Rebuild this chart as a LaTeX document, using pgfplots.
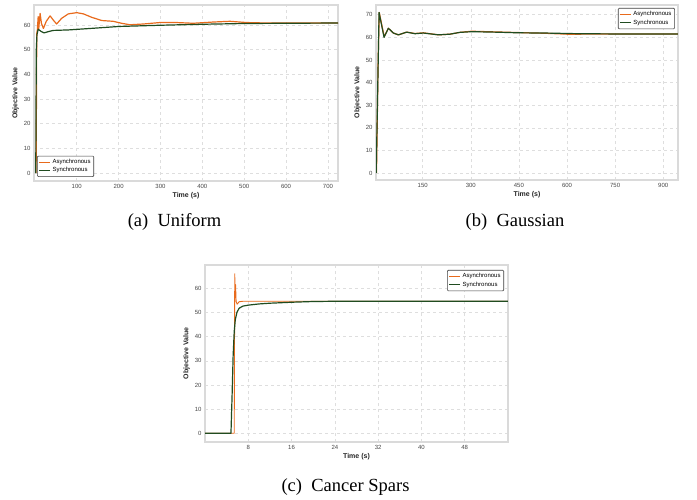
\documentclass[border=0pt]{standalone}
\usepackage{fontspec}
\setmainfont{Liberation Sans}
\newfontfamily\capfont{Liberation Serif}
\usepackage{pgfplots}
\pgfplotsset{compat=1.18}
\definecolor{asyn}{RGB}{232,106,28}
\definecolor{syn}{RGB}{32,76,32}
\definecolor{framec}{RGB}{218,218,218}
\definecolor{gridc}{RGB}{222,222,222}
\definecolor{tickc}{RGB}{70,70,70}
\pgfplotsset{
 mystyle/.style={
  scale only axis,
  axis line style={framec, line width=1.2pt},
  grid=major,
  major grid style={dashed, gridc, line width=0.5pt},
  major tick length=0pt,
  tick label style={font=\fontsize{6}{7}\selectfont, text=tickc},
  /pgf/number format/assume math mode=true,
  label style={font=\bfseries\fontsize{7}{8}\selectfont, text=black!85},
  xlabel style={yshift=3pt},
  ylabel style={yshift=-2pt},
  legend style={font=\fontsize{6}{7}\selectfont, draw=black!75, rounded corners=1pt, line width=0.6pt, inner sep=1.2pt, row sep=-1.5pt},
  legend cell align=left,
  legend image code/.code={\draw[##1, line width=1pt] (0pt,0pt) -- (11pt,0pt);},
  every axis plot/.append style={line width=1.2pt, line join=round},
  xlabel={Time (s)},
  ylabel={Objective Value},
 }
}
\begin{document}
\begin{tikzpicture}
\path[use as bounding box] (0,0) rectangle (697pt,-500pt);
% (a) Uniform
\begin{axis}[mystyle, at={(34pt,-5pt)}, anchor=north west, width=304pt, height=176pt,
  xmin=-2, xmax=724, ymin=-3.2, ymax=68.1,
  xtick={100,200,...,700}, ytick={0,10,...,60},
  legend style={at={(0.01,0.023)}, anchor=south west}]
\addplot[asyn] coordinates {(3,0)(4.6,56.6)(6,58)(8,63.4)(9.4,58.6)(12.6,64.7)(15.7,60.7)(20.5,58.6)(27,61.4)(36.4,63.7)(44,62)(52,60.4)(64,62.7)(80,64.5)(100,65)(116,64.5)(136,63.1)(160,61.8)(187,61.5)(207,60.7)(227,60.1)(259,60.4)(299,61)(338,61)(378,60.7)(426,61.2)(466,61.5)(505,61)(553,60.8)(724,60.8)};
\addlegendentry{Asynchronous}
\addplot[syn] coordinates {(2.2,0)(3.5,50)(5,56)(8,58.3)(14,57.5)(22,56.8)(32,57.3)(44,57.8)(80,58)(150,58.8)(200,59.4)(300,59.9)(400,60.3)(500,60.6)(600,60.7)(724,60.8)};
\addlegendentry{Synchronous}
\end{axis}
% (b) Gaussian
\begin{axis}[mystyle, at={(376pt,-5pt)}, anchor=north west, width=302pt, height=175pt,
  xmin=4.4, xmax=946, ymin=-3.1, ymax=74.3,
  xtick={150,300,...,900}, ytick={0,10,...,70},
  legend style={at={(0.99,0.983)}, anchor=north east}]
\addplot[asyn] coordinates {(6,0)(11,49)(14.5,71)(30,60.3)(43,64)(58.6,61.9)(74,61.1)(100,62.3)(126,61.7)(152,62)(199,61.1)(235,61.4)(266,62.2)(303,62.7)(375,62.4)(450,62.1)(531,61.8)(600,61.4)(635,61.4)(750,61.5)(946,61.5)};
\addlegendentry{Asynchronous}
\addplot[syn] coordinates {(5,0)(14,71)(29.5,60)(43,64)(58.6,61.9)(74,61.1)(100,62.3)(126,61.6)(152,61.9)(199,61.1)(235,61.4)(266,62.2)(303,62.5)(375,62.3)(450,62.0)(531,61.9)(635,61.6)(750,61.5)(946,61.5)};
\addlegendentry{Synchronous}
\end{axis}
% (c) Cancer Spars
\begin{axis}[mystyle, at={(205pt,-265pt)}, anchor=north west, width=303pt, height=177pt,
  xmin=0, xmax=56, ymin=-3.6, ymax=69.6,
  xtick={8,16,...,48}, ytick={0,10,...,60},
  legend style={at={(0.987,0.972)}, anchor=north east}]
\addplot[asyn, line width=0.9pt] coordinates {(0,0)(5.4,0)(5.5,66)(5.55,56)(5.65,61.5)(5.75,54.5)(5.95,53.4)(6.3,54.4)(7,54.6)(56,54.6)};
\addlegendentry{Asynchronous}
\addplot[syn] coordinates {(0,0)(4.8,0)(5.0,15)(5.2,32)(5.4,42)(5.6,47)(5.9,50)(6.3,51.7)(7,52.6)(8,53.0)(10,53.5)(12,53.8)(16,54.2)(20,54.5)(24,54.6)(56,54.6)};
\addlegendentry{Synchronous}
\end{axis}
\node[font=\capfont\fontsize{18.5}{21}\selectfont] at (174.5pt,-222pt) {(a)\ \ Uniform};
\node[font=\capfont\fontsize{18.5}{21}\selectfont] at (515pt,-222pt) {(b)\ \ Gaussian};
\node[font=\capfont\fontsize{18.5}{21}\selectfont] at (345.5pt,-487pt) {(c)\ \ Cancer Spars};
\end{tikzpicture}
\end{document}
